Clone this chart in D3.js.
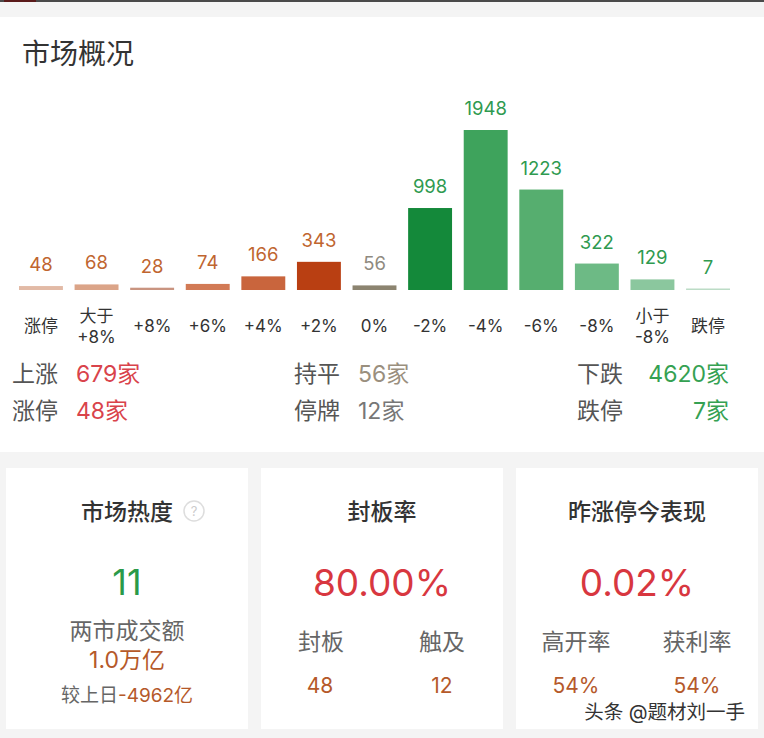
<!DOCTYPE html>
<html>
<head>
<meta charset="utf-8">
<script src="https://cdn.jsdelivr.net/npm/d3@7"></script>
<style>
  body { margin: 0; background: #f4f4f4; }
  svg { display: block; font-family: Inter, "Noto Sans CJK SC", sans-serif; }
</style>
</head>
<body>
<script>
// Chart data
const categories = ["涨停", "大于\n+8%", "+8%", "+6%", "+4%", "+2%", "0%", "-2%", "-4%", "-6%", "-8%", "小于\n-8%", "跌停"];
const counts = [48, 68, 28, 74, 166, 343, 56, 998, 1948, 1223, 322, 129, 7];
const barColors = ["#e2baa6", "#dba488", "#c99480", "#d27a55", "#c9653d", "#b93f12", "#8c8470",
                   "#14893a", "#3ea35c", "#56ae6f", "#6dba85", "#8bc79e", "#bcdcc6"];
const labelColors = ["#c0652f", "#c0652f", "#c0652f", "#c0652f", "#c0652f", "#c0652f", "#8f8a80",
                     "#2f9a50", "#2f9a50", "#2f9a50", "#2f9a50", "#2f9a50", "#2f9a50"];

// summary rows
const summaryLeft = [["上涨", "679家"], ["涨停", "48家"]];
const summaryMid = [["持平", "56家"], ["停牌", "12家"]];
const summaryRight = [["下跌", "4620家"], ["跌停", "7家"]];

// bottom cards
const heatValue = "11", turnover = "1.0万亿", turnoverDiff = "-4962亿";
const sealRate = "80.00%", sealed = "48", touched = "12";
const yesterdayPerf = "0.02%", highOpen = "54%", profitRate = "54%";

const width = 764, height = 738;
const svg = d3.select("body").append("svg")
    .attr("width", width)
    .attr("height", height);

// background bands
svg.append("rect").attr("width", width).attr("height", height).attr("fill", "#f4f4f4");
svg.append("rect").attr("width", width).attr("height", 2).attr("fill", "#4a4a4a");
svg.append("rect").attr("x", 4).attr("width", 32).attr("height", 2).attr("fill", "#5a1a1a");
svg.append("rect").attr("y", 17).attr("width", width).attr("height", 435).attr("fill", "#fff");

svg.append("text")
    .attr("x", 22).attr("y", 64)
    .attr("font-size", 28).attr("font-weight", 400)
    .attr("fill", "#333")
    .text("市场概况");

// Scales
const x = d3.scaleBand()
    .domain(categories)
    .range([19, 730])
    .paddingInner(0.21)
    .paddingOuter(0);

const y = d3.scaleLinear()
    .domain([0, d3.max(counts)])
    .range([290, 130]);

const data = categories.map((c, i) => ({ cat: c, value: counts[i], color: barColors[i], lc: labelColors[i] }));

const bars = svg.append("g").selectAll("g")
    .data(data).enter().append("g");

bars.append("rect")
    .attr("x", d => x(d.cat))
    .attr("width", x.bandwidth())
    .attr("y", d => Math.min(y(d.value), y(0) - 1.5))
    .attr("height", d => Math.max(y(0) - y(d.value), 1.5))
    .attr("fill", d => d.color);

bars.append("text")
    .attr("x", d => x(d.cat) + x.bandwidth() / 2)
    .attr("y", d => Math.min(y(d.value), y(0) - 1.5) - 15)
    .attr("text-anchor", "middle")
    .attr("font-size", 18.5)
    .attr("fill", d => d.lc)
    .text(d => d.value);

// category labels (some are two lines)
bars.append("text")
    .attr("text-anchor", "middle")
    .attr("font-size", 17)
    .attr("fill", "#333")
    .each(function(d) {
        const lines = d.cat.split("\n");
        const cx = x(d.cat) + x.bandwidth() / 2;
        const t = d3.select(this);
        lines.forEach((ln, k) => {
            t.append("tspan")
                .attr("x", cx)
                .attr("y", lines.length === 1 ? 332 : 322 + k * 21)
                .text(ln);
        });
    });

// summary rows
function summary(rows, lx, vx, vColor, anchor) {
    rows.forEach((r, i) => {
        const by = 382 + i * 37;
        svg.append("text").attr("x", lx).attr("y", by)
            .attr("font-size", 23).attr("fill", "#555").text(r[0]);
        svg.append("text").attr("x", vx).attr("y", by)
            .attr("font-size", 23).attr("fill", vColor[i])
            .attr("text-anchor", anchor).text(r[1]);
    });
}
summary(summaryLeft, 12, 76, ["#d9434b", "#d9434b"], "start");
summary(summaryMid, 294, 358, ["#9a8f7e", "#777"], "start");
summary(summaryRight, 577, 729, ["#35a152", "#35a152"], "end");

// bottom cards
const cardX = [6, 261, 516], cardW = 242;
cardX.forEach(cx => {
    svg.append("rect").attr("x", cx).attr("y", 468)
        .attr("width", cardW).attr("height", 261)
        .attr("fill", "#fff");
});

function txt(xp, yp, s, size, color, weight, anchor) {
    return svg.append("text").attr("x", xp).attr("y", yp)
        .attr("font-size", size).attr("fill", color)
        .attr("font-weight", weight || "normal")
        .attr("text-anchor", anchor || "middle")
        .text(s);
}

// card 1
txt(127, 520, "市场热度", 23, "#333", 500);
svg.append("circle").attr("cx", 194).attr("cy", 511).attr("r", 10)
    .attr("fill", "none").attr("stroke", "#ddd").attr("stroke-width", 1.5);
txt(194, 516, "?", 13, "#ccc");
txt(127, 595, heatValue, 36, "#2a9a48");
txt(127, 639, "两市成交额", 23, "#666");
txt(127, 668, turnover, 23, "#b5592a");
const diff = svg.append("text").attr("x", 127).attr("y", 702)
    .attr("font-size", 19).attr("text-anchor", "middle");
diff.append("tspan").attr("fill", "#666").text("较上日");
diff.append("tspan").attr("fill", "#b5592a").text(turnoverDiff);

// card 2
txt(382, 520, "封板率", 23, "#333", 500);
txt(382, 596, sealRate, 37, "#d8373f");
txt(321, 650, "封板", 23, "#666");
txt(442, 650, "触及", 23, "#666");
txt(320, 693, sealed, 21, "#b5592a");
txt(442, 693, touched, 21, "#b5592a");

// card 3
txt(637, 520, "昨涨停今表现", 23, "#333", 500);
txt(637, 596, yesterdayPerf, 37, "#d8373f");
txt(576, 650, "高开率", 23, "#666");
txt(697, 650, "获利率", 23, "#666");
txt(576, 693, highOpen, 21, "#b5592a");
txt(697, 693, profitRate, 21, "#b5592a");

// watermark
txt(745, 719, "头条 @题材刘一手", 19.5, "#333", "normal", "end")
    .attr("stroke", "#fff").attr("stroke-width", 3).attr("paint-order", "stroke");
</script>
</body>
</html>
